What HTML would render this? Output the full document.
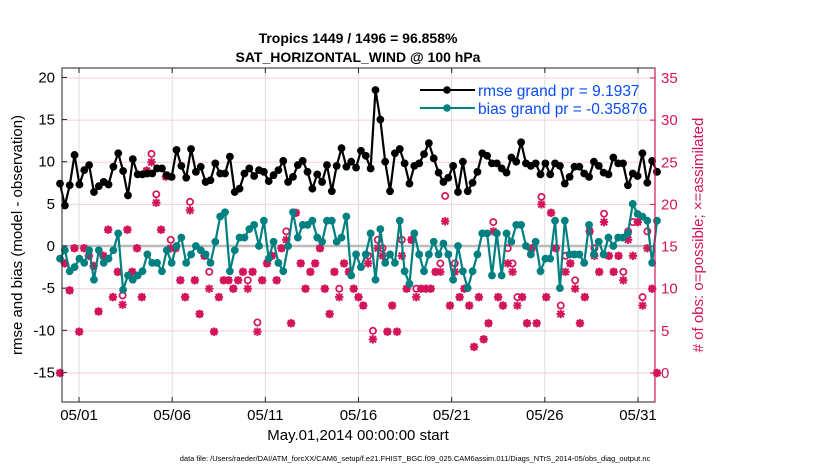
<!DOCTYPE html>
<html><head><meta charset="utf-8"><style>
body{margin:0;background:#fff;}
svg{font-family:"Liberation Sans",Arial,sans-serif;}
</style></head><body>
<svg id="chart" width="830" height="470">
<text x="358" y="43" text-anchor="middle" font-size="14" font-weight="bold">Tropics 1449 / 1496 = 96.858%</text>
<text x="358" y="62" text-anchor="middle" font-size="14" font-weight="bold">SAT_HORIZONTAL_WIND @ 100 hPa</text>
<g id="grid"></g>
<g id="axes"></g>
<g id="marks"></g>
<rect x="62" y="68" width="593" height="334" fill="none" stroke="#222" stroke-width="1"/>
<line x1="655" y1="68" x2="655" y2="402" stroke="#d4145a" stroke-width="1.2"/>
<text transform="translate(22,235) rotate(-90)" text-anchor="middle" font-size="15">rmse and bias (model - observation)</text>
<text transform="translate(703,235) rotate(-90)" text-anchor="middle" font-size="15" fill="#d4145a"># of obs: o=possible; ×=assimilated</text>
<text x="358" y="440" text-anchor="middle" font-size="15">May.01,2014 00:00:00 start</text>
<text x="415" y="461" text-anchor="middle" font-size="7.5">data file: /Users/raeder/DAI/ATM_forcXX/CAM6_setup/f.e21.FHIST_BGC.f09_025.CAM6assim.011/Diags_NTrS_2014-05/obs_diag_output.nc</text>
<g>
<line x1="420" y1="90" x2="475" y2="90" stroke="#000" stroke-width="2"/><circle cx="447" cy="90" r="3.8" fill="#000"/>
<text x="478" y="96" font-size="15.5" fill="#0a4cf5">rmse grand pr = 9.1937</text>
<line x1="420" y1="108" x2="475" y2="108" stroke="#008080" stroke-width="2"/><circle cx="447" cy="108" r="3.8" fill="#008080"/>
<text x="478" y="114" font-size="15.5" fill="#0a4cf5">bias grand pr = -0.35876</text>
</g>
</svg>
<script>
const xTickLabels=["05/01","05/06","05/11","05/16","05/21","05/26","05/31"];
const xTickDays=[0,5,10,15,20,25,30];
const yTicksLeft=[-15,-10,-5,0,5,10,15,20];
const yTicksRight=[0,5,10,15,20,25,30,35];
const rmse=[7.4,4.8,7.2,10.8,7.3,9,9.6,6.4,7.1,7.6,7.3,9.4,11.0,8.9,6.0,10.3,8.5,8.5,8.6,8.6,9.2,9.2,8.4,8.2,11.4,9.5,8.1,11.5,8.8,9.4,7.6,7.8,9.8,8.6,8.6,10.6,6.4,6.8,8.6,9.2,
8.3,9.0,8.8,7.7,8.4,9.0,10.1,7.6,8.2,9.6,10.1,8.8,6.8,8.5,7.6,9.6,6.5,9.5,11.6,9.4,10.0,9.3,11.3,10.7,9.2,18.5,15.0,10.0,6.5,11.0,11.5,9.8,7.4,9.5,9.8,10.9,12.2,10.4,8.7,7.6,8.1,9.5,6.4,
10.0,6.5,7.5,8.8,11.0,10.7,9.8,9.8,9.2,8.7,10.5,10.0,12.3,9.8,9.5,9.8,8.5,9.8,8.5,9.8,9.5,7.4,8.2,9.4,9.4,8.6,8.2,10.0,9.5,8.7,8.5,10.5,9.8,9.8,7.2,8.6,8.3,11.0,7.5,10.1,8.8];
const bias=[-1.5,-0.5,-3.0,-2.5,-1.5,-2,-0.5,-4,-0.5,-2,-1.5,-0.5,1.5,-5.2,-3.5,-4,-3.5,-3,-1,-2,-2,-3,-0.5,-2,0,1,-2,-1,0,-0.5,-1,-2,0.5,3.5,4,-3,-0.5,1,1,2,
2.5,0,3,-1.5,0.5,-2,-3,0,4,1,2.5,2.5,3,1,0.5,3,3,0.5,1,3.5,-3.5,-1,-2.5,-1,1.5,-4,2,-2,-1,-2,3,-3,-4.5,1.5,-1,-3,-1,0.5,-1,0.3,-1,-4,0,
-3,-5,-3,-1,1.5,1.5,-3.5,1.5,-3.5,1.5,0.5,2.5,2.5,0,-1,0.5,-3,-1.5,-1.5,3,-5,3,-1,-1,-1,-2,2.5,-1,0.5,-1,1,0,1,1,1.5,5,3.8,3.5,3,-2,3];
const nAssim=[0,13,9.8,14.8,4.9,14.8,13.9,12.7,7.3,13.9,17,9,12,8.1,17,12,14.8,9,24,25,20.2,17,23.3,14.8,14.8,11,9,19.3,11,7,13.9,10,4.9,9,11,11,10,11,12,10,12,4.9,11,
13,13.9,11,14.8,15.8,5.9,19,13,10,12,13,14.8,10,7,12,9,13,12,10,9,8,13,4,14.8,13.9,4.9,8,4.9,13.9,10,15.8,9,10,10,10,12,12,18,8,12,9,
10,8,3.1,9,4,5.9,16.8,9,8,13,12,8,9,5.9,14.8,5.9,20,9,19,14.8,7,12,13,10,5.9,9,16.8,13.9,12,17.9,13.9,12,13.9,11,15.8,13.9,17.9,8,14.8,10,0];
const nPoss=[0,13,9.8,14.8,4.9,14.8,13.9,12.7,7.3,13.9,17,9,12,9.2,17,12,14.8,9,24,26,21.2,17,23.3,15.8,14.8,11,9,20.3,11,7,13.9,12,4.9,9,11,11,10,11,12,11,12,6,11,
13,13.9,11,14.8,16.8,5.9,19,13,10,12,13,14.8,10,7,12,10,13,12,10,9,8,13.9,5,15.8,14.8,4.9,8,4.9,15.8,10,15.8,10,10,10,10,12,13,21,8,13,9,
10,8,3.1,9,4,5.9,17.9,9,8,14.8,13,9,9,5.9,14.8,5.9,20.9,9,19,14.8,8,13.9,13,11,5.9,9,16.8,14.8,12,18.9,13.9,12,13.9,12,16.8,17.9,17.9,9,16.8,10,0];

const NS="http://www.w3.org/2000/svg";
const X0=62,X1=655,Y0=68,Y1=402;
const xDay=d=>79+d*(638-79)/30;
const yL=v=>246-v*8.43;
const yR=v=>373-v*8.43;
const xIdx=(i,n)=>60+i*(657-60)/(n-1);
function mk(tag,attrs,parent){const e=document.createElementNS(NS,tag);for(const k in attrs)e.setAttribute(k,attrs[k]);parent.appendChild(e);return e;}
const grid=document.getElementById('grid'),axes=document.getElementById('axes'),marks=document.getElementById('marks');
xTickDays.forEach((d,i)=>{
  const l=mk('line',{x1:xDay(d),x2:xDay(d),y1:Y0,y2:Y1,stroke:'#ddd','stroke-width':1},grid);
  
  
  mk('line',{x1:xDay(d),x2:xDay(d),y1:Y1,y2:Y1-5,stroke:'#222'},axes);
  mk('line',{x1:xDay(d),x2:xDay(d),y1:Y0,y2:Y0+5,stroke:'#222'},axes);
  const t=mk('text',{x:xDay(d),y:Y1+18,'text-anchor':'middle','font-size':15},axes);
  t.textContent=xTickLabels[i];
  
  
});
yTicksRight.forEach(v=>{
  const l=mk('line',{x1:X0,x2:X1,y1:yR(v),y2:yR(v),stroke:'#f4cfdc','stroke-width':1},grid);
  
  
  mk('line',{x1:X1,x2:X1-5,y1:yR(v),y2:yR(v),stroke:'#d4145a'},axes);
  const t=mk('text',{x:X1+6,y:yR(v)+5,'font-size':15,fill:'#d4145a'},axes);
  t.textContent=v;
  
  
});
yTicksLeft.forEach(v=>{
  mk('line',{x1:X0,x2:X0+5,y1:yL(v),y2:yL(v),stroke:'#222'},axes);
  const t=mk('text',{x:X0-7,y:yL(v)+5,'font-size':15,'text-anchor':'end'},axes);
  t.textContent=v;
  
  
});
const zl=mk('line',{x1:X0,x2:X1,y1:yL(0),y2:yL(0),stroke:'#bbb','stroke-width':2.5},grid);


const C='#d4145a';
nAssim.forEach((a,i)=>{
  const x=xIdx(i,nAssim.length),p=nPoss[i];
  const g=mk('g',{},marks);
  
  
  const ya=yR(a),yp=yR(p);
  const r=4.2;
  [[r,0],[0,r],[r*0.75,r*0.75],[r*0.75,-r*0.75]].forEach(([dx,dy])=>mk('line',{x1:x-dx,x2:x+dx,y1:ya-dy,y2:ya+dy,stroke:C,'stroke-width':2},g));
  if(Math.abs(p-a)<0.01){mk('circle',{cx:x,cy:ya,r:3.7,fill:C},g);}
  else{mk('circle',{cx:x,cy:yp,r:3.1,fill:'none',stroke:C,'stroke-width':1.7},g);}
});
function series(vals,color,name){
  const pts=vals.map((v,i)=>xIdx(i,vals.length)+','+yL(v)).join(' ');
  const pl=mk('polyline',{points:pts,fill:'none',stroke:color,'stroke-width':2.2},marks);
  
  
  vals.forEach((v,i)=>{
    const c=mk('circle',{cx:xIdx(i,vals.length),cy:yL(v),r:3.9,fill:color},marks);
    
    
  });
}
series(bias,'#008080','bias');
series(rmse,'#000','rmse');
</script>
</body></html>
